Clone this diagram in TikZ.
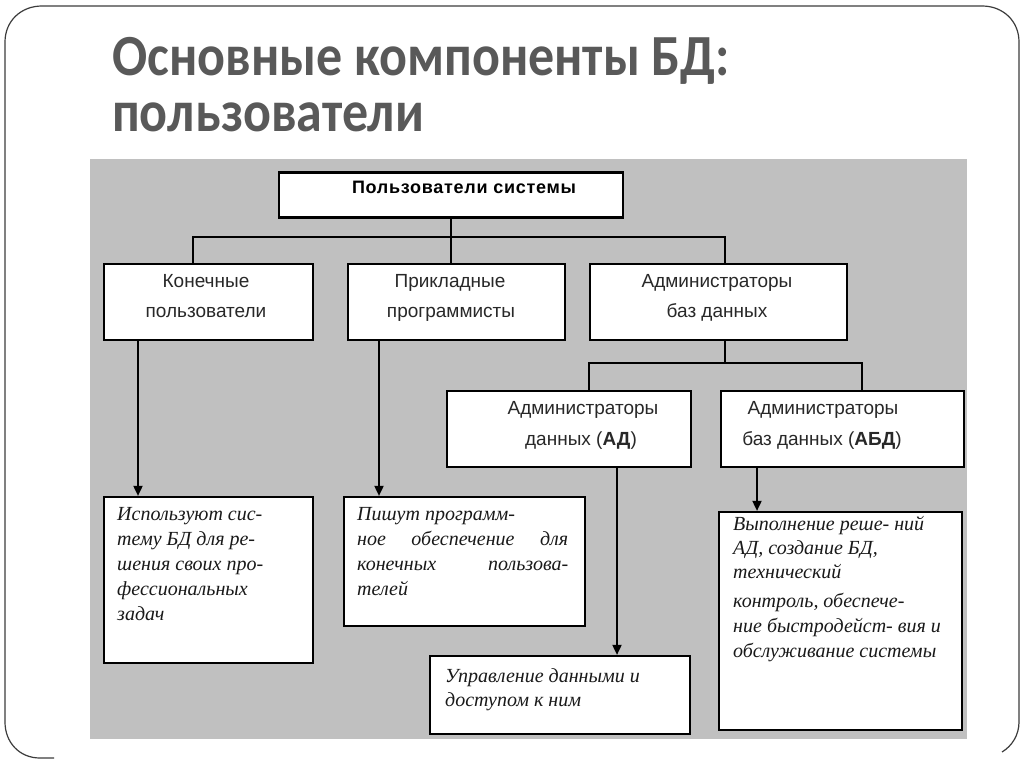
\documentclass[tikz,border=0pt]{standalone}
\usepackage{fontspec}
\setmainfont{Liberation Serif}
\newfontfamily\titlefont{Carlito}
\newfontfamily\arialf{Liberation Sans}
\newfontfamily\arialbsp[LetterSpace=4]{Liberation Sans}
\usetikzlibrary{arrows.meta}
\definecolor{bggray}{RGB}{192,192,192}
\definecolor{titlegray}{RGB}{89,89,89}
\definecolor{framegray}{RGB}{60,60,60}
\definecolor{labelgray}{RGB}{40,40,40}
\definecolor{italgray}{RGB}{25,25,25}
\begin{document}
\begin{tikzpicture}[x=1pt,y=-1pt,
  boxst/.style={draw=black, line width=2.2pt, fill=white, inner sep=0pt},
  conn/.style={line width=1.8pt, draw=black},
  arr/.style={conn, -{Triangle[length=10pt,width=9pt]}},
  lbl/.style={anchor=base, inner sep=0pt, text=labelgray, font=\arialf\fontsize{19}{22}\selectfont},
  itl/.style={anchor=base west, inner sep=0pt, text=italgray, font=\itshape\fontsize{20}{25}\selectfont},
  ttl/.style={anchor=base west, inner sep=0pt, text=titlegray, font=\titlefont\bfseries\fontsize{52}{56}\selectfont}
]
\useasboundingbox (0,0) rectangle (1024,767);
\fill[white] (0,0) rectangle (1024,767);
% slide frame
\draw[framegray, line width=1.2pt]
  (54,758) -- (40,758) .. controls (19,758) and (5,742) .. (5,722)
  -- (5,42) .. controls (5,21) and (21,6) .. (42,6)
  -- (982,6) .. controls (1003,6) and (1019,21) .. (1019,42)
  -- (1019,722) .. controls (1019,735) and (1012,746) .. (1002,752);
% title
\node[ttl] (t1) at (112,76) {\scalebox{1}[1.12]{Основные компоненты БД:}};
\node[ttl] (t2) at (112,132) {\scalebox{1}[1.12]{пользователи}};
% grey panel
\fill[bggray] (90,159) rectangle (967,739);

% boxes
\node[boxst, minimum width=344pt, minimum height=45pt] (top) at (451,195) {};
\node[boxst, minimum width=209pt, minimum height=76pt] (K) at (208.5,302) {};
\node[boxst, minimum width=217pt, minimum height=76pt] (P) at (456.5,302) {};
\node[boxst, minimum width=257pt, minimum height=76pt] (A) at (718.5,302) {};
\node[boxst, minimum width=244pt, minimum height=76pt] (AD) at (569,429) {};
\node[boxst, minimum width=243pt, minimum height=76pt] (ABD) at (842.5,429) {};
\node[boxst, minimum width=209pt, minimum height=166pt] (T1) at (208.5,580) {};
\node[boxst, minimum width=241pt, minimum height=129pt] (T2) at (464.5,561.5) {};
\node[boxst, minimum width=260pt, minimum height=78pt] (T3) at (560,695) {};
\node[boxst, minimum width=243pt, minimum height=218pt] (T4) at (840.5,621) {};

% connectors
\coordinate (bm) at (451,237);
\coordinate (bl) at (193,237);
\coordinate (br) at (725,237);
\draw[conn] (top.south -| bm) -- (bm);
\draw[conn] (bl |- K.north) -- (bl) -- (br) -- (br |- A.north);
\draw[conn] (bm) -- (bm |- P.north);
\coordinate (cm) at (725,363);
\coordinate (cl) at (589,363);
\coordinate (cr) at (862,363);
\draw[conn] (A.south -| cm) -- (cm);
\draw[conn] (cl |- AD.north) -- (cl) -- (cr) -- (cr |- ABD.north);
\coordinate (a1) at (138,0);
\coordinate (a2) at (379,0);
\coordinate (a3) at (617,0);
\coordinate (a4) at (757,0);
\draw[arr] (K.south -| a1) -- (T1.north -| a1);
\draw[arr] (P.south -| a2) -- (T2.north -| a2);
\draw[arr] (AD.south -| a3) -- (T3.north -| a3);
\draw[arr] (ABD.south -| a4) -- (T4.north -| a4);

% labels
\node[anchor=base, inner sep=0pt, text=black, font=\arialbsp\bfseries\fontsize{18}{22}\selectfont] (ltop) at (464,194) {Пользователи системы};
\node[lbl] (lk1) at (206,287) {Конечные};
\node[lbl] (lk2) at (206,317) {пользователи};
\node[lbl] (lp1) at (450,287) {Прикладные};
\node[lbl] (lp2) at (451,317) {программисты};
\node[lbl] (la1) at (717,287) {Администраторы};
\node[lbl] (la2) at (717,317) {баз данных};
\node[lbl] (lad1) at (583,414) {Администраторы};
\node[lbl] (lad2) at (581,445) {данных (\textbf{АД})};
\node[lbl] (labd1) at (823,414) {Администраторы};
\node[lbl] (labd2) at (822,445) {баз данных (\textbf{АБД})};

% italic texts
\node[itl] (x11) at (117,520) {Используют сис-};
\node[itl] (x12) at (117,545) {тему БД для ре-};
\node[itl] (x13) at (117,570) {шения своих про-};
\node[itl] (x14) at (117,595) {фессиональных};
\node[itl] (x15) at (117,620) {задач};

\node[itl] (x21) at (357,520) {Пишут программ-};
\node[itl] (x22) at (357,545) {\makebox[211pt][s]{ное обеспечение для}};
\node[itl] (x23) at (357,570) {\makebox[211pt][s]{конечных пользова-}};
\node[itl] (x24) at (357,595) {телей};

\node[itl] (x31) at (445,682) {Управление данными и};
\node[itl] (x32) at (445,706) {доступом к ним};

\node[itl] (x41) at (733,530) {Выполнение реше- ний};
\node[itl] (x42) at (733,554) {АД, создание БД,};
\node[itl] (x43) at (733,578) {технический};
\node[itl] (x44) at (733,607) {контроль, обеспече-};
\node[itl] (x45) at (733,632) {ние быстродейст- вия и};
\node[itl] (x46) at (733,657) {обслуживание системы};
\end{tikzpicture}
\end{document}
